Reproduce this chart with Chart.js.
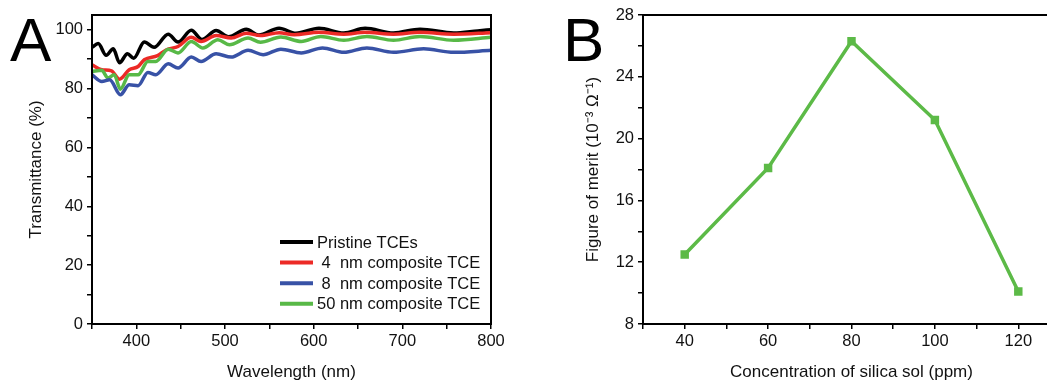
<!DOCTYPE html>
<html>
<head>
<meta charset="utf-8">
<script src="https://cdn.jsdelivr.net/npm/chart.js@4.4.1/dist/chart.umd.min.js"></script>
<style>
  html, body { margin: 0; padding: 0; background: #fff; overflow: hidden; }
  #wrap { position: relative; width: 1047px; height: 384px; overflow: hidden; }
  canvas { position: absolute; top: 0; }
  #chartA { left: 0; }
  #chartB { left: 530px; }
  .panel { position: absolute; top: 9px; font-family: "Liberation Sans", Arial, sans-serif; font-size: 62px; line-height: 1; color: #000; }
</style>
</head>
<body>
<div id="wrap">
  <canvas id="chartA" width="520" height="384"></canvas>
  <canvas id="chartB" width="560" height="384"></canvas>
  <div class="panel" style="left:10px">A</div>
  <div class="panel" style="left:563px">B</div>
</div>
<script>
// Panel A - transmittance spectra
const wlPristine = [350, 357, 366, 374, 381, 390, 397, 409, 420, 436, 447, 462, 474, 490, 504, 524, 538, 561, 580, 606, 634, 658, 690, 720, 758, 785, 800];
const tPristine = [94.0, 95.3, 91.3, 93.5, 88.8, 91.8, 90.3, 95.8, 94.0, 98.5, 95.8, 99.8, 96.7, 99.7, 97.6, 100.2, 98.2, 100.5, 98.8, 100.5, 98.9, 100.5, 98.9, 100.2, 98.9, 99.6, 100.0];

const wl4nm = [350, 361, 372, 381, 392, 402, 409, 424, 434, 447, 462, 473, 490, 507, 524, 540, 561, 578, 606, 634, 658, 690, 720, 758, 800];
const t4nm = [88.1, 86.4, 86.0, 83.2, 86.4, 87.5, 89.8, 91.2, 93.2, 94.3, 97.4, 96.0, 98.0, 97.2, 98.8, 98.0, 99.0, 98.3, 99.1, 98.5, 99.1, 98.5, 99.1, 98.5, 99.0];

const wl8nm = [350, 361, 370, 382, 392, 402, 413, 422, 436, 447, 462, 473, 490, 507, 526, 543, 563, 586, 610, 634, 660, 690, 724, 758, 800];
const t8nm = [84.7, 82.4, 83.0, 77.9, 81.3, 81.0, 85.5, 84.7, 88.4, 87.0, 90.7, 89.2, 91.8, 90.7, 93.0, 91.5, 93.4, 92.1, 93.8, 92.3, 93.8, 92.3, 93.5, 92.3, 93.0];

const wl50nm = [350, 361, 368, 375, 382, 392, 402, 413, 422, 436, 447, 462, 475, 492, 505, 526, 540, 563, 586, 608, 634, 660, 690, 720, 758, 800];
const t50nm = [85.8, 86.2, 83.6, 84.7, 79.8, 84.7, 84.7, 89.2, 89.2, 93.4, 92.1, 96.0, 93.8, 96.6, 94.9, 97.2, 95.7, 97.5, 96.0, 97.7, 96.4, 97.7, 96.4, 97.7, 96.4, 97.4];

// Panel B - figure of merit
const concentration = [40, 60, 80, 100, 120];
const figureOfMerit = [12.5, 18.1, 26.3, 21.2, 10.1];

const FONT = '"Liberation Sans", Arial, sans-serif';
const tickFont = { family: FONT, size: 16.5 };
const titleFont = { family: FONT, size: 17 };

function pts(xs, ys) {
  return xs.map((x, i) => ({ x: x, y: ys[i] }));
}

// box round the plot area
const frame = {
  id: 'frame',
  afterDatasetsDraw(chart) {
    const a = chart.chartArea, ctx = chart.ctx;
    ctx.save();
    ctx.strokeStyle = '#000';
    ctx.lineWidth = 2;
    ctx.strokeRect(a.left, a.top, a.right - a.left, a.bottom - a.top);
    ctx.restore();
  }
};

// legend inside the plot, like the original figure
const insideLegend = {
  id: 'insideLegend',
  afterDraw(chart) {
    const ctx = chart.ctx;
    ctx.save();
    ctx.font = '16.5px ' + FONT;
    ctx.textBaseline = 'middle';
    ctx.fillStyle = '#111';
    chart.data.datasets.forEach((ds, i) => {
      const y = 242 + i * 20.6;
      ctx.strokeStyle = ds.borderColor;
      ctx.lineWidth = 4;
      ctx.beginPath();
      ctx.moveTo(280, y);
      ctx.lineTo(313, y);
      ctx.stroke();
      ctx.fillText(ds.label, 317, y + 1);
    });
    ctx.restore();
  }
};

function lineSet(label, xs, ys, color, order) {
  return {
    label: label,
    data: pts(xs, ys),
    borderColor: color,
    backgroundColor: color,
    borderWidth: 3.5,
    pointRadius: 0,
    cubicInterpolationMode: 'monotone',
    order: order
  };
}

const chartA = new Chart(document.getElementById('chartA'), {
  type: 'line',
  data: {
    datasets: [
      lineSet('Pristine TCEs', wlPristine, tPristine, '#000000', 3),
      lineSet(' 4  nm composite TCE', wl4nm, t4nm, '#ec2a26', 2),
      lineSet(' 8  nm composite TCE', wl8nm, t8nm, '#3852a6', 0),
      lineSet('50 nm composite TCE', wl50nm, t50nm, '#58b947', 1)
    ]
  },
  options: {
    responsive: false,
    animation: false,
    devicePixelRatio: 1,
    layout: { padding: { left: 0, right: 29, top: 15, bottom: 0 } },
    plugins: { legend: { display: false }, tooltip: { enabled: false } },
    scales: {
      x: {
        type: 'linear', min: 350, max: 800,
        ticks: {
          stepSize: 50, autoSkip: false, maxRotation: 0, padding: 3, color: '#111', font: tickFont,
          callback: v => (v >= 400 && v % 100 === 0) ? v : ''
        },
        grid: { drawOnChartArea: false, tickLength: 5, color: '#000', lineWidth: 1.5 },
        border: { color: '#000', width: 2 },
        title: { display: true, text: 'Wavelength (nm)', color: '#111', font: titleFont, padding: { top: 0, bottom: 1 } },
        afterFit: s => { s.height = 60; }
      },
      y: {
        type: 'linear', min: 0, max: 105,
        ticks: {
          stepSize: 10, includeBounds: false, autoSkip: false, padding: 4, color: '#111', font: tickFont,
          callback: v => (v % 20 === 0) ? v : ''
        },
        grid: { drawOnChartArea: false, tickLength: 5, color: '#000', lineWidth: 1.5 },
        border: { color: '#000', width: 2 },
        title: { display: true, text: 'Transmittance (%)', color: '#111', font: titleFont, padding: { top: 26, bottom: 0 } },
        afterFit: s => { s.width = 92; }
      }
    }
  },
  plugins: [frame, insideLegend]
});

const chartB = new Chart(document.getElementById('chartB'), {
  type: 'line',
  data: {
    datasets: [{
      label: 'Figure of merit',
      data: pts(concentration, figureOfMerit),
      borderColor: '#5cba47',
      backgroundColor: '#5cba47',
      borderWidth: 3.5,
      pointStyle: 'rect',
      pointRadius: 3.5,
      tension: 0
    }]
  },
  options: {
    responsive: false,
    animation: false,
    devicePixelRatio: 1,
    layout: { padding: { left: 0, right: 30, top: 15, bottom: 0 } },
    plugins: { legend: { display: false }, tooltip: { enabled: false } },
    scales: {
      x: {
        type: 'linear', min: 30, max: 130,
        ticks: {
          stepSize: 10, autoSkip: false, maxRotation: 0, padding: 3, color: '#111', font: tickFont,
          callback: v => (v >= 40 && v <= 120 && v % 20 === 0) ? v : ''
        },
        grid: { drawOnChartArea: false, tickLength: 5, color: '#000', lineWidth: 1.5 },
        border: { color: '#000', width: 2 },
        title: { display: true, text: 'Concentration of silica sol (ppm)', color: '#111', font: titleFont, padding: { top: 0, bottom: 1 } },
        afterFit: s => { s.height = 60; }
      },
      y: {
        type: 'linear', min: 8, max: 28,
        ticks: {
          stepSize: 2, autoSkip: false, padding: 4, color: '#111', font: tickFont,
          callback: v => (v % 4 === 0) ? v : ''
        },
        grid: { drawOnChartArea: false, tickLength: 5, color: '#000', lineWidth: 1.5 },
        border: { color: '#000', width: 2 },
        title: { display: true, text: 'Figure of merit (10⁻³ Ω⁻¹)', color: '#111', font: titleFont, padding: { top: 53, bottom: 0 } },
        afterFit: s => { s.width = 113; }
      }
    }
  },
  plugins: [frame]
});
</script>
</body>
</html>
